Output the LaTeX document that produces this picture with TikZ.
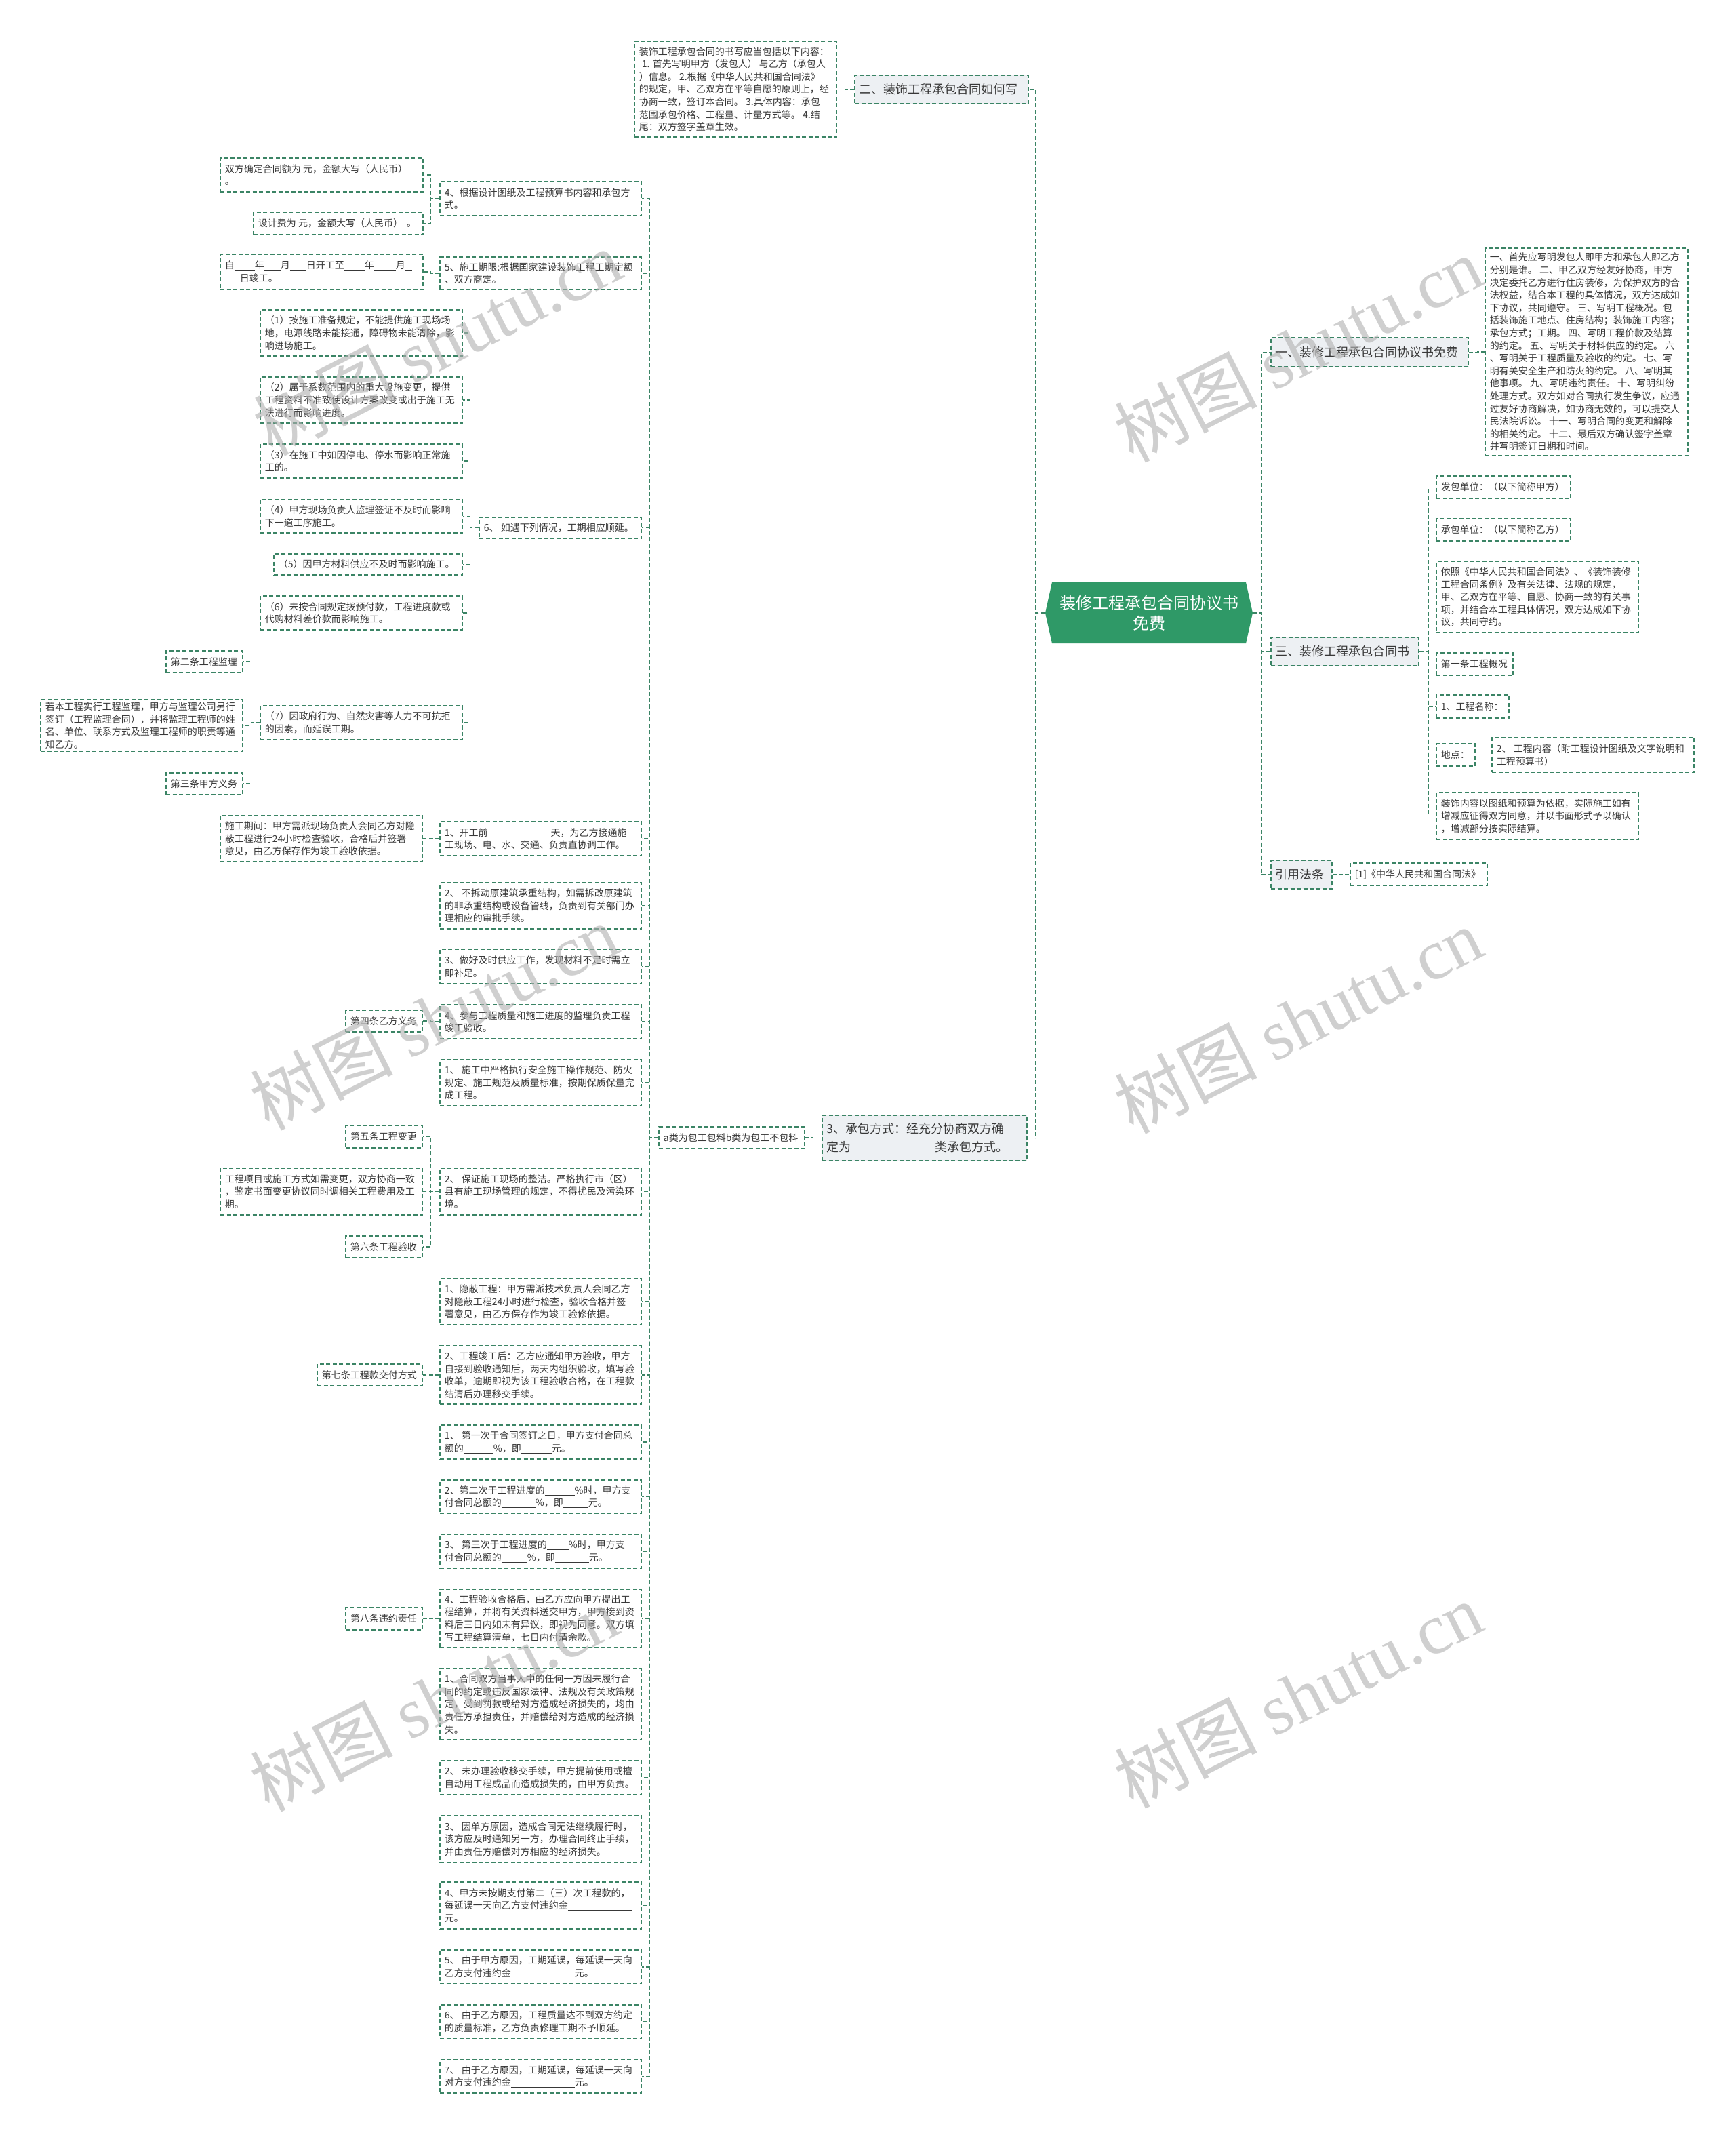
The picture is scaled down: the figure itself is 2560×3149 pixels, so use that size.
\documentclass[tikz,border=0pt]{standalone}
\usepackage{fontspec}
\setmainfont{Noto Sans CJK SC}
\newfontfamily\wmlatin{Liberation Serif}
\usetikzlibrary{calc}
\definecolor{lc}{HTML}{3B8465}
\definecolor{rootc}{HTML}{2F9967}
\definecolor{lvl1}{HTML}{EDF0F3}
\definecolor{tc}{HTML}{383838}
\definecolor{wmc}{HTML}{B0B0B0}
\tikzset{
 con/.style={draw=lc, line width=1.5pt, dash pattern=on 6pt off 3.5pt},
 sbox/.style={draw=lc, line width=1.5pt, dash pattern=on 6pt off 3.5pt, inner sep=0pt, fill=white},
 lbox/.style={sbox, fill=lvl1},
 txt/.style={inner sep=0pt, align=left, text=tc, font=\fontsize{14}{18.6}\selectfont},
 ltxt/.style={inner sep=0pt, align=left, text=tc, font=\fontsize{18}{26.5}\selectfont},
 wmark/.style={rotate=27, text=wmc, opacity=.6, inner sep=0pt, font=\fontsize{105}{110}\selectfont},
}
\newcommand\mybox[8]{%
 \pgfmathsetmacro\tbw{#6-#4}\pgfmathsetmacro\tbh{#7-#5}%
 \node[#1, minimum width=\tbw pt, minimum height=\tbh pt] (#3) at ({(#4+#6)/2},{(#5+#7)/2}) {};
 \node[#2, anchor=west] (#3-t) at ([xshift=7.5pt]#3.west) {#8};}
\newcommand\RC[2]{\draw[con] (#1.east) -- ++(13,0) |- (#2.west);}
\newcommand\LC[2]{\draw[con] (#1.west) -- ++(-13,0) |- (#2.east);}
\newcommand\bl[1]{\rule[-2pt]{#1pt}{0.6pt}}
\begin{document}
\begin{tikzpicture}[x=1pt,y=-1pt]
\useasboundingbox (0,0) rectangle (2560,3149);
\fill[white] (0,0) rectangle (2560,3149);

% root
\fill[rootc] (1542,904) -- (1552,859) -- (1838,859) -- (1848,904) -- (1838,949) -- (1552,949) -- cycle;
\node[inner sep=0pt, minimum width=306pt, minimum height=90pt, align=center, text=white, font=\fontsize{24}{30}\selectfont] (root) at (1695,904) {装修工程承包合同协议书\\免费};

% ---------- top ----------
\mybox{lbox}{ltxt}{T2}{1261}{111}{1517}{153}{二、装饰工程承包合同如何写}
\mybox{sbox}{txt}{A}{936}{61}{1234}{202}{装饰工程承包合同的书写应当包括以下内容：\\
\hspace*{4pt}1. 首先写明甲方（发包人） 与乙方（承包人\\
）信息。 2.根据《中华人民共和国合同法》\\
的规定，甲、乙双方在平等自愿的原则上，经\\
协商一致，签订本合同。 3.具体内容：承包\\
范围承包价格、工程量、计量方式等。 4.结\\
尾：双方签字盖章生效。}

% ---------- right ----------
\mybox{lbox}{ltxt}{T1}{1875}{498}{2166}{541}{一、装修工程承包合同协议书免费}
\mybox{sbox}{txt}{B}{2191}{366}{2490}{672}{一、首先应写明发包人即甲方和承包人即乙方\\
分别是谁。 二、甲乙双方经友好协商，甲方\\
决定委托乙方进行住房装修，为保护双方的合\\
法权益，结合本工程的具体情况，双方达成如\\
下协议，共同遵守。 三、写明工程概况。包\\
括装饰施工地点、住房结构；装饰施工内容；\\
承包方式；工期。 四、写明工程价款及结算\\
的约定。 五、写明关于材料供应的约定。 六\\
、写明关于工程质量及验收的约定。 七、写\\
明有关安全生产和防火的约定。 八、写明其\\
他事项。 九、写明违约责任。 十、写明纠纷\\
处理方式。双方如对合同执行发生争议，应通\\
过友好协商解决，如协商无效的，可以提交人\\
民法院诉讼。 十一、写明合同的变更和解除\\
的相关约定。 十二、最后双方确认签字盖章\\
并写明签订日期和时间。}

\mybox{lbox}{ltxt}{T3}{1875}{940}{2093}{982}{三、装修工程承包合同书}
\mybox{sbox}{txt}{c1}{2119}{702}{2317}{735}{发包单位：（以下简称甲方）}
\mybox{sbox}{txt}{c2}{2119}{765}{2317}{798}{承包单位：（以下简称乙方）}
\mybox{sbox}{txt}{c3}{2119}{828}{2417}{933}{依照《中华人民共和国合同法》、《装饰装修\\
工程合同条例》及有关法律、法规的规定，\\
甲、乙双方在平等、自愿、协商一致的有关事\\
项，并结合本工程具体情况，双方达成如下协\\
议，共同守约。}
\mybox{sbox}{txt}{c4}{2119}{963}{2232}{996}{第一条工程概况}
\mybox{sbox}{txt}{c5}{2119}{1025}{2226}{1059}{1、工程名称：}
\mybox{sbox}{txt}{c6}{2119}{1097}{2176}{1130}{地点：}
\mybox{sbox}{txt}{c6a}{2201}{1088}{2499}{1139}{2、 工程内容（附工程设计图纸及文字说明和\\
工程预算书）}
\mybox{sbox}{txt}{c7}{2119}{1169}{2417}{1238}{装饰内容以图纸和预算为依据，实际施工如有\\
增减应征得双方同意，并以书面形式予以确认\\
，增减部分按实际结算。}
\mybox{lbox}{ltxt}{TL}{1875}{1269}{1965}{1311}{引用法条}
\mybox{sbox}{txt}{TL1}{1992}{1273}{2194}{1306}{[1]《中华人民共和国合同法》}

% ---------- left ----------
\mybox{lbox}{ltxt}{T4}{1213}{1645}{1515}{1712}{3、承包方式：经充分协商双方确\\定为\bl{124}类承包方式。}
\mybox{sbox}{txt}{AB}{972}{1662}{1187}{1694}{a类为包工包料b类为包工不包料}

\mybox{sbox}{txt}{L1}{649}{268}{946}{318}{4、根据设计图纸及工程预算书内容和承包方\\式。}
\mybox{sbox}{txt}{L1a}{325}{233}{624}{283}{双方确定合同额为 元，金额大写（人民币）\\。}
\mybox{sbox}{txt}{L1b}{374}{313}{624}{346}{设计费为 元，金额大写（人民币）\hspace{6pt}。}
\mybox{sbox}{txt}{L2}{649}{379}{946}{427}{5、施工期限:根据国家建设装饰工程工期定额\\、双方商定。}
\mybox{sbox}{txt}{L2a}{325}{375}{624}{427}{自\bl{30}年\bl{24}月\bl{24}日开工至\bl{30}年\bl{32}月\bl{10}\\\bl{22}日竣工。}
\mybox{sbox}{txt}{L3}{707}{763}{946}{794}{6、 如遇下列情况，工期相应顺延。}
\mybox{sbox}{txt}{L3a}{384}{457}{682}{525}{（1）按施工准备规定，不能提供施工现场场\\地，电源线路未能接通，障碍物未能清除，影\\响进场施工。}
\mybox{sbox}{txt}{L3b}{384}{556}{682}{624}{（2）属于系数范围内的重大设施变更，提供\\工程资料不准致使设计方案改变或出于施工无\\法进行而影响进度。}
\mybox{sbox}{txt}{L3c}{384}{655}{682}{705}{（3）在施工中如因停电、停水而影响正常施\\工的。}
\mybox{sbox}{txt}{L3d}{384}{737}{682}{786}{（4）甲方现场负责人监理签证不及时而影响\\下一道工序施工。}
\mybox{sbox}{txt}{L3e}{404}{817}{682}{848}{（5）因甲方材料供应不及时而影响施工。}
\mybox{sbox}{txt}{L3f}{384}{879}{682}{929}{（6）未按合同规定拨预付款，工程进度款或\\代购材料差价款而影响施工。}
\mybox{sbox}{txt}{L3g}{384}{1041}{682}{1091}{（7）因政府行为、自然灾害等人力不可抗拒\\的因素，而延误工期。}
\mybox{sbox}{txt}{G1}{245}{960}{358}{992}{第二条工程监理}
\mybox{sbox}{txt}{G2}{60}{1032}{358}{1108}{若本工程实行工程监理，甲方与监理公司另行\\签订（工程监理合同），并将监理工程师的姓\\名、单位、联系方式及监理工程师的职责等通\\知乙方。}
\mybox{sbox}{txt}{G3}{245}{1140}{358}{1172}{第三条甲方义务}

\mybox{sbox}{txt}{L4}{649}{1212}{946}{1262}{1、开工前\bl{93}天，为乙方接通施\\工现场、电、水、交通、负责直协调工作。}
\mybox{sbox}{txt}{L4a}{325}{1203}{623}{1271}{施工期间：甲方需派现场负责人会同乙方对隐\\蔽工程进行24小时检查验收，合格后并签署\\意见，由乙方保存作为竣工验收依据。}
\mybox{sbox}{txt}{L5}{649}{1302}{946}{1370}{2、 不拆动原建筑承重结构，如需拆改原建筑\\的非承重结构或设备管线，负责到有关部门办\\理相应的审批手续。}
\mybox{sbox}{txt}{L6}{649}{1400}{946}{1451}{3、做好及时供应工作，发现材料不足时需立\\即补足。}
\mybox{sbox}{txt}{L7}{649}{1482}{946}{1532}{4、参与工程质量和施工进度的监理负责工程\\竣工验收。}
\mybox{sbox}{txt}{L7a}{510}{1490}{623}{1522}{第四条乙方义务}
\mybox{sbox}{txt}{L8}{649}{1563}{946}{1631}{1、 施工中严格执行安全施工操作规范、防火\\规定、施工规范及质量标准，按期保质保量完\\成工程。}
\mybox{sbox}{txt}{L9}{649}{1723}{946}{1792}{2、 保证施工现场的整洁。严格执行市（区）\\县有施工现场管理的规定，不得扰民及污染环\\境。}
\mybox{sbox}{txt}{L9a}{510}{1660}{623}{1693}{第五条工程变更}
\mybox{sbox}{txt}{L9b}{325}{1723}{623}{1792}{工程项目或施工方式如需变更，双方协商一致\\，鉴定书面变更协议同时调相关工程费用及工\\期。}
\mybox{sbox}{txt}{L9c}{510}{1823}{623}{1855}{第六条工程验收}
\mybox{sbox}{txt}{L10}{649}{1886}{946}{1954}{1、隐蔽工程：甲方需派技术负责人会同乙方\\对隐蔽工程24小时进行检查，验收合格并签\\署意见，由乙方保存作为竣工验修依据。}
\mybox{sbox}{txt}{L11}{649}{1985}{946}{2071}{2、工程竣工后：乙方应通知甲方验收，甲方\\自接到验收通知后，两天内组织验收，填写验\\收单，逾期即视为该工程验收合格，在工程款\\结清后办理移交手续。}
\mybox{sbox}{txt}{L11a}{468}{2012}{623}{2044}{第七条工程款交付方式}
\mybox{sbox}{txt}{L12}{649}{2102}{946}{2152}{1、 第一次于合同签订之日，甲方支付合同总\\额的\bl{44}\%，即\bl{45}元。}
\mybox{sbox}{txt}{L13}{649}{2183}{946}{2232}{2、第二次于工程进度的\bl{44}\%时，甲方支\\付合同总额的\bl{50}\%，即\bl{37}元。}
\mybox{sbox}{txt}{L14}{649}{2263}{946}{2313}{3、 第三次于工程进度的\bl{32}\%时，甲方支\\付合同总额的\bl{38}\%，即\bl{50}元。}
\mybox{sbox}{txt}{L15}{649}{2344}{946}{2430}{4、工程验收合格后，由乙方应向甲方提出工\\程结算，并将有关资料送交甲方，甲方接到资\\料后三日内如未有异议，即视为同意。双方填\\写工程结算清单，七日内付清余款。}
\mybox{sbox}{txt}{L15a}{510}{2371}{623}{2404}{第八条违约责任}
\mybox{sbox}{txt}{L16}{649}{2461}{946}{2566}{1、合同双方当事人中的任何一方因未履行合\\同的约定或违反国家法律、法规及有关政策规\\定，受到罚款或给对方造成经济损失的，均由\\责任方承担责任，并赔偿给对方造成的经济损\\失。}
\mybox{sbox}{txt}{L17}{649}{2597}{946}{2647}{2、 未办理验收移交手续，甲方提前使用或擅\\自动用工程成品而造成损失的，由甲方负责。}
\mybox{sbox}{txt}{L18}{649}{2678}{946}{2747}{3、 因单方原因，造成合同无法继续履行时，\\该方应及时通知另一方，办理合同终止手续，\\并由责任方赔偿对方相应的经济损失。}
\mybox{sbox}{txt}{L19}{649}{2776}{946}{2845}{4、甲方未按期支付第二（三）次工程款的，\\每延误一天向乙方支付违约金\bl{95}\\元。}
\mybox{sbox}{txt}{L20}{649}{2876}{946}{2926}{5、 由于甲方原因，工期延误，每延误一天向\\乙方支付违约金\bl{94}元。}
\mybox{sbox}{txt}{L21}{649}{2957}{946}{3007}{6、 由于乙方原因，工程质量达不到双方约定\\的质量标准，乙方负责修理工期不予顺延。}
\mybox{sbox}{txt}{L22}{649}{3038}{946}{3087}{7、 由于乙方原因，工期延误，每延误一天向\\对方支付违约金\bl{94}元。}

% ---------- connectors ----------
\draw[con] (root.west) -- ++(-14,0) |- (T2.east);
\draw[con] (root.west) -- ++(-14,0) |- (T4.east);
\draw[con] (root.east) -- ++(13,0) |- (T1.east -| T1.west);
\draw[con] (root.east) -- ++(13,0) |- (T3.west);
\draw[con] (root.east) -- ++(13,0) |- (TL.west);
\LC{T2}{A}
\RC{T1}{B}
\foreach \c in {c1,c2,c3,c4,c5,c6,c7} {\RC{T3}{\c}}
\RC{c6}{c6a}
\RC{TL}{TL1}
\LC{T4}{AB}
\foreach \c in {L1,L2,L3,L4,L5,L6,L7,L8,L9,L10,L11,L12,L13,L14,L15,L16,L17,L18,L19,L20,L21,L22} {\LC{AB}{\c}}
\LC{L1}{L1a}
\LC{L1}{L1b}
\LC{L2}{L2a}
\foreach \c in {L3a,L3b,L3c,L3d,L3e,L3f,L3g} {\LC{L3}{\c}}
\foreach \c in {G1,G2,G3} {\LC{L3g}{\c}}
\LC{L4}{L4a}
\LC{L7}{L7a}
\foreach \c in {L9a,L9b,L9c} {\LC{L9}{\c}}
\LC{L11}{L11a}
\LC{L15}{L15a}

% ---------- watermarks ----------
\node[wmark] (wm1) at (645,505) {树图 {\wmlatin shutu.cn}};
\node[wmark] (wm2) at (1915,515) {树图 {\wmlatin shutu.cn}};
\node[wmark] (wm3) at (640,1500) {树图 {\wmlatin shutu.cn}};
\node[wmark] (wm4) at (1915,1505) {树图 {\wmlatin shutu.cn}};
\node[wmark] (wm5) at (640,2505) {树图 {\wmlatin shutu.cn}};
\node[wmark] (wm6) at (1915,2500) {树图 {\wmlatin shutu.cn}};
\end{tikzpicture}
\end{document}
